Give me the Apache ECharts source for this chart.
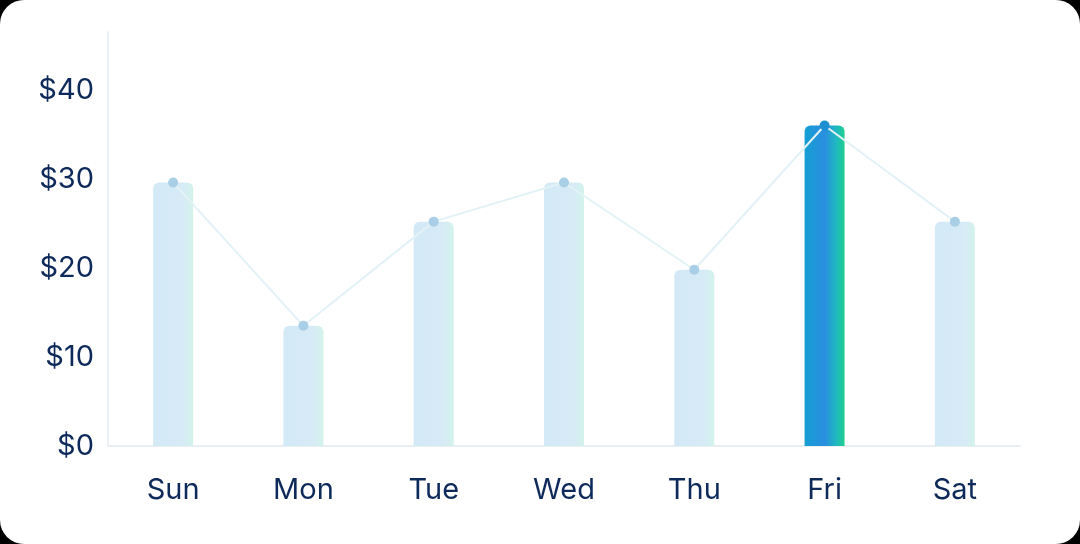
<!DOCTYPE html>
<html><head><meta charset="utf-8">
<script src="https://cdn.jsdelivr.net/npm/echarts@6/dist/echarts.min.js"></script>
<style>
html,body{margin:0;padding:0;background:#000;width:1080px;height:544px;overflow:hidden}
#card{position:absolute;left:0;top:0;width:1080px;height:544px;background:#fff;border-radius:24px;overflow:hidden}
#c{width:1080px;height:544px}
</style></head><body>
<div id="card"><div id="c"></div></div>
<script>
const categories=['Sun','Mon','Tue','Wed','Thu','Fri','Sat'];
const values=[29.6,13.5,25.2,29.6,19.8,36,25.2];
const highlightIndex=5;
const yTicks=[0,10,20,30,40];
const chart=echarts.init(document.getElementById('c'));
const light={type:'linear',x:0,y:0,x2:1,y2:0,colorStops:[{offset:0,color:'#d3e9f6'},{offset:0.75,color:'#d6ebf6'},{offset:1,color:'#d2f3ea'}]};
const strong={type:'linear',x:0,y:0,x2:1,y2:0,colorStops:[{offset:0,color:'#139fd3'},{offset:0.5,color:'#2a8ee0'},{offset:0.8,color:'#1fb9bf'},{offset:1,color:'#1fd08e'}]};
chart.setOption({
 animation:false,
 grid:{left:108,right:60,top:32,bottom:98},
 xAxis:{type:'category',data:categories,axisLine:{lineStyle:{color:'#e8eef2',width:2}},axisTick:{show:false},
  axisLabel:{color:'#0e2a5a',fontSize:29,margin:30,fontFamily:'Inter'}},
 yAxis:{type:'value',min:0,max:46.5,interval:10,splitLine:{show:false},
  axisLine:{show:true,lineStyle:{color:'#eef2f5',width:2}},axisTick:{show:false},
  axisLabel:{color:'#0e2a5a',fontSize:29,margin:14,fontFamily:'Inter',showMaxLabel:false,
   formatter:v=>yTicks.includes(v)?'$'+v:''}},
 series:[
  {type:'bar',barWidth:40,data:values.map((v,i)=>({value:v,itemStyle:{color:i===highlightIndex?strong:light,borderRadius:[6,6,0,0]}}))},
  {type:'line',data:values.map((v,i)=>i===highlightIndex?{value:v,itemStyle:{color:'#1b8fd0'}}:v),symbol:'circle',symbolSize:10,lineStyle:{color:'#e2f2f6',width:2},itemStyle:{color:'#a8cfe6'},z:5}
 ]
});
</script></body></html>
